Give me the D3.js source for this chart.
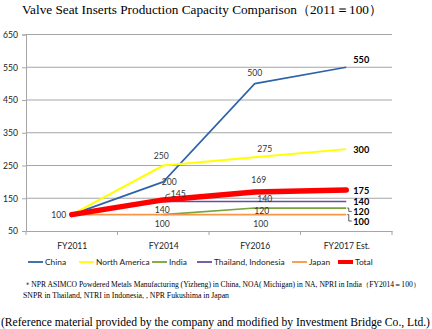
<!DOCTYPE html>
<html>
<head>
<meta charset="utf-8">
<script src="https://cdn.jsdelivr.net/npm/d3@7"></script>
<style>
body { margin: 0; background: #fff; }
svg { display: block; }
</style>
</head>
<body>
<script>
var categories = ["FY2011", "FY2014", "FY2016", "FY2017 Est."];
var seriesNames = ["China", "North America", "India", "Thailand, Indonesia", "Japan", "Total"];
var china = [100, 200, 500, 550];
var northAmerica = [100, 250, 275, 300];
var india = [null, 100, 120, 120];
var thaiIndo = [100, 140, 140, 140];
var japan = [100, 100, 100, 100];
var total = [100, 145, 169, 175];
var yTicks = [50, 150, 250, 350, 450, 550, 650];

var values = [china, northAmerica, india, thaiIndo, japan, total];
var colors = ["#2e62a8", "#ffff00", "#77a33a", "#6a4e9a", "#f79646", "#ff0000"];
var widths = [1.6, 2, 1.6, 1.6, 1.6, 5.5];

// label placement: [series, point, dx, dy]
var labelSpots = [
  [5, 0, -13, 0],
  [1, 1, -2, -10], [0, 1, 6, 0], [5, 1, 15, -6], [3, 1, -1, 8], [4, 1, -1, 9.5],
  [0, 2, 0, -11], [1, 2, 10, -8], [5, 2, 4, -12], [3, 2, 10, -3], [2, 2, 7, 3], [4, 2, 6, 9]
];
var endSpots = [[0, -8], [1, 0], [5, 0], [3, -0.5], [2, 3.3], [4, 6.4]];

var w = 432, h = 329;
var svg = d3.select("body").append("svg").attr("width", w).attr("height", h);

var x = d3.scalePoint().domain(categories).range([26, 392]).padding(0.5);
var y = d3.scaleLinear().domain([50, 650]).range([231, 34.5]);

svg.append("text")
  .attr("x", 22).attr("y", 14)
  .attr("font-family", "Liberation Serif, serif")
  .attr("font-size", 13.2)
  .attr("fill", "#000")
  .attr("textLength", 360).attr("lengthAdjust", "spacingAndGlyphs")
  .text("Valve Seat Inserts Production Capacity Comparison（2011＝100）");

// grid
svg.append("g").selectAll("line")
  .data(yTicks.slice(1))
  .enter().append("line")
  .attr("x1", 26).attr("x2", 392)
  .attr("y1", function(d) { return y(d); })
  .attr("y2", function(d) { return y(d); })
  .attr("stroke", "#a6a6a6").attr("stroke-width", 1);

var yAxis = svg.append("g").attr("transform", "translate(26,0)")
  .call(d3.axisLeft(y).tickValues(yTicks).tickSize(4).tickPadding(4));
var xAxis = svg.append("g").attr("transform", "translate(0," + y(50) + ")")
  .call(d3.axisBottom(x).tickSize(0).tickPadding(12));

[yAxis, xAxis].forEach(function(g) {
  g.selectAll(".domain").attr("stroke", "#a6a6a6");
  g.selectAll(".tick line").attr("stroke", "#a6a6a6");
  g.selectAll("text").attr("font-family", "Lato, sans-serif").attr("font-size", 8.6).attr("fill", "#222");
});

// x ticks between categories
var step = x.step();
svg.append("g").selectAll("line")
  .data(d3.range(5))
  .enter().append("line")
  .attr("x1", function(i) { return 26 + i * step; })
  .attr("x2", function(i) { return 26 + i * step; })
  .attr("y1", y(50)).attr("y2", y(50) + 4)
  .attr("stroke", "#a6a6a6");

svg.append("g").selectAll("path")
  .data(values)
  .enter().append("path")
  .attr("d", function(d) {
    var pts = d.map(function(v, i) { return v == null ? null : [x(categories[i]), y(v)]; }).filter(Boolean);
    return d3.line()(pts);
  })
  .attr("fill", "none")
  .attr("stroke", function(d, i) { return colors[i]; })
  .attr("stroke-width", function(d, i) { return widths[i]; })
  .attr("stroke-linecap", function(d, i) { return i == 5 ? "round" : "butt"; })
  .attr("stroke-linejoin", "round");

// data labels
svg.append("g").selectAll("text")
  .data(labelSpots)
  .enter().append("text")
  .attr("x", function(d) { return x(categories[d[1]]) + d[2]; })
  .attr("y", function(d) { return y(values[d[0]][d[1]]) + d[3]; })
  .attr("text-anchor", "middle")
  .attr("dominant-baseline", "central")
  .attr("font-family", "Lato, sans-serif")
  .attr("font-size", 8.6)
  .attr("fill", "#333")
  .text(function(d) { return values[d[0]][d[1]]; });

// leader for 145
var p145 = [x(categories[1]), y(total[1])];
svg.append("path")
  .attr("d", "M" + (p145[0] + 2) + "," + (p145[1] - 1) + "l1,-4l4,-1")
  .attr("fill", "none").attr("stroke", "#333").attr("stroke-width", 0.8);

// end labels
var last = categories.length - 1;
var xe = x(categories[last]);
svg.append("g").selectAll("text")
  .data(endSpots)
  .enter().append("text")
  .attr("x", xe + 7)
  .attr("y", function(d) { return y(values[d[0]][last]) + d[1]; })
  .attr("dominant-baseline", "central")
  .attr("font-family", "Lato, sans-serif")
  .attr("font-size", 9.2)
  .attr("font-weight", "bold")
  .attr("fill", "#000")
  .text(function(d) { return values[d[0]][last]; });

svg.append("g").selectAll("path")
  .data(endSpots.filter(function(d) { return d[1] > 1; }))
  .enter().append("path")
  .attr("d", function(d) {
    var yy = y(values[d[0]][last]);
    return "M" + (xe + 1) + "," + yy + "h1.5v" + d[1] + "h3";
  })
  .attr("fill", "none").attr("stroke", "#333").attr("stroke-width", 0.8);

// legend
var legendX = [28, 79, 152, 197, 292, 338];
var lg = svg.append("g").selectAll("g")
  .data(seriesNames)
  .enter().append("g")
  .attr("transform", function(d, i) { return "translate(" + legendX[i] + ",262)"; });
lg.append("line")
  .attr("x1", 0).attr("x2", 15)
  .attr("stroke", function(d, i) { return colors[i]; })
  .attr("stroke-width", function(d, i) { return i == 5 ? 4 : 1.8; });
lg.append("text")
  .attr("x", 17)
  .attr("dominant-baseline", "central")
  .attr("font-family", "Lato, sans-serif")
  .attr("font-size", 8.4)
  .attr("fill", "#222")
  .text(function(d) { return d; });

svg.append("text")
  .attr("x", 24).attr("y", 287)
  .attr("font-family", "Liberation Serif, serif")
  .attr("font-size", 7.3)
  .attr("textLength", 396).attr("lengthAdjust", "spacingAndGlyphs")
  .text("＊NPR ASIMCO Powdered Metals Manufacturing (Yizheng) in China, NOA( Michigan) in NA, NPRI in India（FY2014＝100）");
svg.append("text")
  .attr("x", 23).attr("y", 297.5)
  .attr("font-family", "Liberation Serif, serif")
  .attr("font-size", 7.3)
  .attr("textLength", 206).attr("lengthAdjust", "spacingAndGlyphs")
  .text("SNPR in Thailand, NTRI in Indonesia, ,  NPR Fukushima in Japan");

svg.append("text")
  .attr("x", 1).attr("y", 326)
  .attr("font-family", "Liberation Serif, serif")
  .attr("font-size", 11.5)
  .attr("textLength", 429).attr("lengthAdjust", "spacingAndGlyphs")
  .text("(Reference material provided by the company and modified by Investment Bridge Co., Ltd.)");
</script>
</body>
</html>
